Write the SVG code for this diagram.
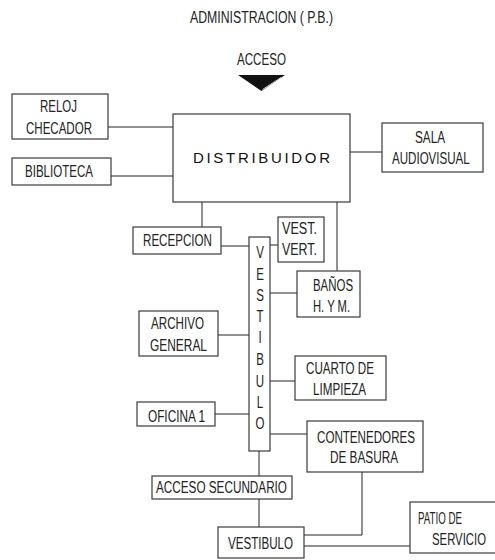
<svg xmlns="http://www.w3.org/2000/svg" width="495" height="560" viewBox="0 0 495 560">
  <style>
    .box { fill: #ffffff; stroke: #3a3a3a; stroke-width: 1.2; }
    .wire { fill: none; stroke: #222222; stroke-width: 1; }
    .lbl { font-family: "Liberation Sans", Arial, sans-serif; font-size: 16px; fill: #222222; }
    .big { font-family: "Liberation Sans", Arial, sans-serif; font-size: 15px; fill: #111111; }
  </style>

  <!-- heading -->
  <g id="title">
    <text class="lbl" x="190" y="23" textLength="143" lengthAdjust="spacingAndGlyphs">ADMINISTRACION ( P.B.)</text>
  </g>

  <!-- main entrance with arrow -->
  <g id="acceso">
    <text class="lbl" x="237" y="65" textLength="49" lengthAdjust="spacingAndGlyphs">ACCESO</text>
    <polygon points="238,75 285,75 261.5,91" fill="#111111"/>
    <line x1="281" y1="77.5" x2="262.5" y2="89.5" stroke="#ffffff" stroke-width="0.8"/>
  </g>

  <!-- connectors -->
  <g id="connectors">
    <path class="wire" d="M103,127 H178"/>
    <path class="wire" d="M108,176 H178"/>
    <path class="wire" d="M348,152 H385"/>
    <path class="wire" d="M202,199 V227"/>
    <path class="wire" d="M337,199 V271"/>
    <path class="wire" d="M218,246 H250"/>
    <path class="wire" d="M270,245 H280"/>
    <path class="wire" d="M270,293 H299"/>
    <path class="wire" d="M217,335 H250"/>
    <path class="wire" d="M270,381 H297"/>
    <path class="wire" d="M213,414 H250"/>
    <path class="wire" d="M270,434 H310"/>
    <path class="wire" d="M259,451 V476"/>
    <path class="wire" d="M259,499 V528"/>
    <path class="wire" d="M362,472 V535 H302"/>
    <path class="wire" d="M302,546 H413"/>
  </g>

  <g id="reloj-checador">
    <rect class="box" x="12" y="94" width="96" height="45"/>
    <text class="lbl" x="40" y="112" textLength="37" lengthAdjust="spacingAndGlyphs">RELOJ</text>
    <text class="lbl" x="26" y="134" textLength="66" lengthAdjust="spacingAndGlyphs">CHECADOR</text>
  </g>

  <g id="biblioteca">
    <rect class="box" x="12" y="158" width="99" height="27"/>
    <text class="lbl" x="25" y="177" textLength="68" lengthAdjust="spacingAndGlyphs">BIBLIOTECA</text>
  </g>

  <g id="distribuidor">
    <rect class="box" x="173" y="114" width="177" height="88"/>
    <text class="big" x="193" y="163" textLength="137" lengthAdjust="spacing">DISTRIBUIDOR</text>
  </g>

  <g id="sala-audiovisual">
    <rect class="box" x="382" y="123" width="101" height="49"/>
    <text class="lbl" x="415" y="143" textLength="30" lengthAdjust="spacingAndGlyphs">SALA</text>
    <text class="lbl" transform="translate(392,164) scale(0.72,1)" textLength="108" lengthAdjust="spacingAndGlyphs">AUDIOVISUAL</text>
  </g>

  <g id="recepcion">
    <rect class="box" x="133" y="227" width="88" height="27"/>
    <text class="lbl" x="143" y="246" textLength="69" lengthAdjust="spacingAndGlyphs">RECEPCION</text>
  </g>

  <g id="vest-vert">
    <rect class="box" x="278" y="217" width="46" height="45"/>
    <text class="lbl" x="282" y="234" textLength="35" lengthAdjust="spacingAndGlyphs">VEST.</text>
    <text class="lbl" x="282" y="255" textLength="35" lengthAdjust="spacingAndGlyphs">VERT.</text>
  </g>

  <g id="vestibulo-vertical">
    <rect class="box" x="249" y="237" width="21" height="214"/>
    <g transform="translate(260,0) scale(0.72,1)">
      <text class="lbl" text-anchor="middle" x="0" y="258">V</text>
      <text class="lbl" text-anchor="middle" x="0" y="280">E</text>
      <text class="lbl" text-anchor="middle" x="0" y="301">S</text>
      <text class="lbl" text-anchor="middle" x="0" y="322">T</text>
      <text class="lbl" text-anchor="middle" x="0" y="343">I</text>
      <text class="lbl" text-anchor="middle" x="0" y="365">B</text>
      <text class="lbl" text-anchor="middle" x="0" y="387">U</text>
      <text class="lbl" text-anchor="middle" x="0" y="408">L</text>
      <text class="lbl" text-anchor="middle" x="0" y="429">O</text>
    </g>
  </g>

  <g id="banos">
    <rect class="box" x="297" y="271" width="63" height="46"/>
    <text class="lbl" x="313" y="291" textLength="40" lengthAdjust="spacingAndGlyphs">BAÑOS</text>
    <text class="lbl" x="313" y="312" textLength="37" lengthAdjust="spacingAndGlyphs">H. Y M.</text>
  </g>

  <g id="archivo-general">
    <rect class="box" x="139" y="311" width="79" height="45"/>
    <text class="lbl" x="151" y="329" textLength="53" lengthAdjust="spacingAndGlyphs">ARCHIVO</text>
    <text class="lbl" x="150" y="351" textLength="57" lengthAdjust="spacingAndGlyphs">GENERAL</text>
  </g>

  <g id="cuarto-limpieza">
    <rect class="box" x="295" y="356" width="91" height="44"/>
    <text class="lbl" x="306" y="374" textLength="68" lengthAdjust="spacingAndGlyphs">CUARTO DE</text>
    <text class="lbl" x="313" y="395" textLength="53" lengthAdjust="spacingAndGlyphs">LIMPIEZA</text>
  </g>

  <g id="oficina-1">
    <rect class="box" x="137" y="402" width="78" height="24"/>
    <text class="lbl" x="148" y="422" textLength="57" lengthAdjust="spacingAndGlyphs">OFICINA 1</text>
  </g>

  <g id="contenedores-basura">
    <rect class="box" x="307" y="421" width="116" height="51"/>
    <text class="lbl" x="317" y="443" textLength="98" lengthAdjust="spacingAndGlyphs">CONTENEDORES</text>
    <text class="lbl" x="330" y="463" textLength="68" lengthAdjust="spacingAndGlyphs">DE BASURA</text>
  </g>

  <g id="acceso-secundario">
    <rect class="box" x="152" y="476" width="140" height="23"/>
    <text class="lbl" x="156" y="493" textLength="131" lengthAdjust="spacingAndGlyphs">ACCESO SECUNDARIO</text>
  </g>

  <g id="vestibulo">
    <rect class="box" x="218" y="527" width="86" height="31"/>
    <text class="lbl" x="228" y="549" textLength="65" lengthAdjust="spacingAndGlyphs">VESTIBULO</text>
  </g>

  <g id="patio-servicio">
    <rect class="box" x="410" y="502" width="95" height="51"/>
    <text class="lbl" x="418" y="524" textLength="44" lengthAdjust="spacingAndGlyphs">PATIO DE</text>
    <text class="lbl" transform="translate(432,545) scale(0.72,1)" textLength="75" lengthAdjust="spacingAndGlyphs">SERVICIO</text>
  </g>
</svg>
